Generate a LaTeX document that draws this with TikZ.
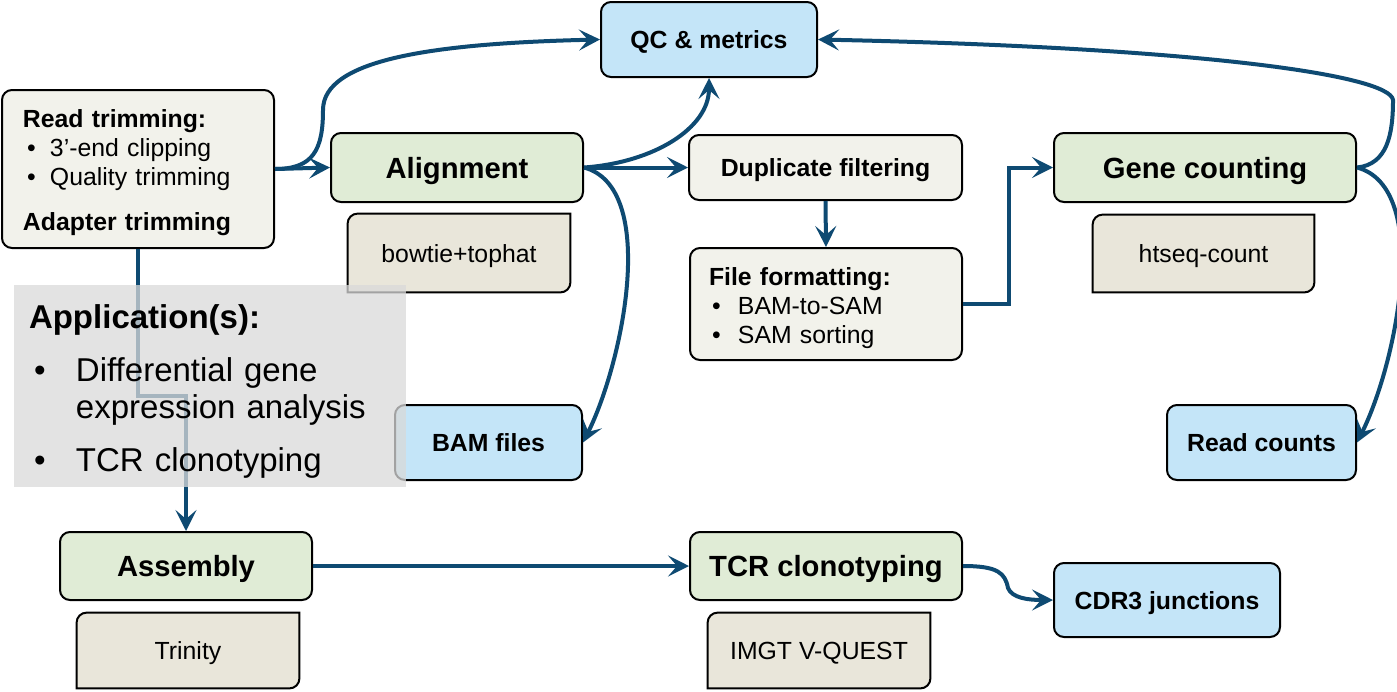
\documentclass[tikz,border=0pt]{standalone}
\usepackage{fontspec}
\setmainfont{Liberation Sans}
\usetikzlibrary{arrows.meta,backgrounds}
\definecolor{flowblue}{HTML}{0E4A72}
\definecolor{stepgreen}{HTML}{E0ECD6}
\definecolor{outblue}{HTML}{C4E5F8}
\definecolor{prepbeige}{HTML}{F2F2EB}
\definecolor{toolbeige}{HTML}{E9E6DA}
\definecolor{appgray}{HTML}{D9D9D9}
\tikzset{
    procbox/.style={draw=black, line width=1pt, rounded corners=5pt, inner sep=0pt,
        font=\fontsize{12.4pt}{14.5pt}\selectfont\bfseries},
    oneline/.style={text height=9pt, text depth=0pt},
    prepbox/.style={procbox, fill=prepbeige},
    stepbox/.style={procbox, fill=stepgreen, text height=10.6pt, text depth=0pt,
        font=\fontsize{14.6pt}{17pt}\selectfont\bfseries},
    outbox/.style={procbox, oneline, fill=outblue},
    toolbox/.style={inner sep=0pt, oneline, font=\fontsize{12.4pt}{14.5pt}\selectfont},
    toolframe/.style={draw=black, line width=1pt, fill=toolbeige},
    flow/.style={draw=flowblue, line width=2pt, -{Stealth[length=10.5pt,width=10.5pt,inset=4.5pt]}},
}
\begin{document}
\begin{tikzpicture}[x=0.5pt, y=-0.5pt]
    \useasboundingbox (0,0) rectangle (1397,691);
    % top row
    \node [outbox, minimum width=108pt, minimum height=37.5pt] (qc) at (709,39.5) {QC \& metrics};
    \node [prepbox, minimum height=79pt, text width=115pt, inner xsep=10.5pt, align=left] (trim) at (138,169)
        {\rule{0pt}{13pt}Read trimming:\\
        {\mdseries\hspace*{2pt}\makebox[11.5pt][l]{\textbullet}3’-end clipping}\\
        {\mdseries\hspace*{2pt}\makebox[11.5pt][l]{\textbullet}Quality trimming}\\[8pt]
        Adapter trimming};
    \node [stepbox, minimum width=126pt, minimum height=34.5pt] (align) at (457,167.5) {Alignment};
    \node [toolbox, minimum width=111pt, minimum height=39pt] (bowtie) at (459,253) {bowtie+tophat};
    \node [prepbox, oneline, minimum width=136.5pt, minimum height=32.5pt] (dup) at (825.5,167.5) {Duplicate filtering};
    \node [prepbox, minimum height=56pt, text width=117pt, inner xsep=9.5pt, align=left] (fmt) at (826,304)
        {\rule{0pt}{13pt}File formatting:\\
        {\mdseries\hspace*{1.5pt}\makebox[13pt][l]{\textbullet}BAM-to-SAM}\\
        {\mdseries\hspace*{1.5pt}\makebox[13pt][l]{\textbullet}SAM sorting}};
    \node [stepbox, minimum width=151pt, minimum height=34.5pt] (gene) at (1205,167.5) {Gene counting};
    \node [toolbox, minimum width=110.5pt, minimum height=38.5pt] (htseq) at (1203.5,253.5) {htseq-count};
    \node [outbox, minimum width=93.5pt, minimum height=37.5pt] (bam) at (488.5,442.5) {BAM files};
    \node [outbox, minimum width=94.5pt, minimum height=37.5pt] (rc) at (1261.5,442.5) {Read counts};
    % bottom row
    \node [stepbox, minimum width=126pt, minimum height=34pt] (asm) at (186,566) {Assembly};
    \node [toolbox, minimum width=111pt, minimum height=37.5pt] (trin) at (188,650.5) {Trinity};
    \node [stepbox, minimum width=136pt, minimum height=34pt] (tcr) at (826,566) {TCR clonotyping};
    \node [toolbox, minimum width=111pt, minimum height=37.5pt] (imgt) at (819,650.5) {IMGT V-QUEST};
    \node [outbox, minimum width=113pt, minimum height=37pt] (cdr) at (1167,600) {CDR3 junctions};
    % tool frames
    \begin{scope}[on background layer]
        \foreach \t in {bowtie,htseq,trin,imgt}
            \draw [toolframe] (\t.south west) -- ([yshift=-5pt]\t.north west)
                arc [start angle=180, end angle=90, radius=5pt] -- (\t.north east)
                -- ([yshift=5pt]\t.south east) arc [start angle=0, end angle=-90, radius=5pt] -- cycle;
    \end{scope}
    % connectors
    \coordinate (tbend) at (323,110);
    \coordinate (gbend) at (1393,100);
    \coordinate (cbend) at (1008,588);
    \draw [flow] (trim.east) -- (align.west);
    \draw [flow] (trim.east) .. controls +(38,0) and +(0,40) .. (tbend)
        .. controls +(0,-50) and +(-170,4) .. (qc.west);
    \draw [flow] (align.east) -- (dup.west);
    \draw [flow] (align.east) .. controls +(70,-5) and +(0,50) .. (qc.south);
    \draw [flow] (align.east) .. controls +(75,20) and +(40,-80) .. (bam.east);
    \draw [flow] (dup.south) -- (fmt.north);
    \draw [flow] (fmt.east) -- ++(46,0) |- (gene.west);
    \draw [flow] (gene.east) .. controls +(30,-3) and +(0,35) .. (gbend)
        .. controls +(-3,-25) and +(380,8) .. (qc.east);
    \draw [flow] (gene.east) .. controls +(75,20) and +(40,-80) .. (rc.east);
    \draw [flow] (trim.south) -- ++(0,147) -| (asm.north);
    \draw [flow] (asm.east) -- (tcr.west);
    \draw [flow] (tcr.east) .. controls +(35,0) and +(-3,-15) .. (cbend)
        .. controls +(4,10) and +(-25,0) .. (cdr.west);
    % applications
    \node [fill=appgray, fill opacity=0.75, text opacity=1, inner xsep=7.5pt, inner ysep=0pt,
        text width=181pt, minimum height=101pt, align=left,
        font=\fontsize{16.5pt}{18.5pt}\selectfont] (app) at (210,386)
        {\rule{0pt}{17pt}{\bfseries Application(s):}\\[8pt]
        \hspace*{2.5pt}\makebox[21pt][l]{\textbullet}Differential gene\\
        \hspace*{23.5pt}expression analysis\\[8pt]
        \hspace*{2.5pt}\makebox[21pt][l]{\textbullet}TCR clonotyping};
\end{tikzpicture}
\end{document}
